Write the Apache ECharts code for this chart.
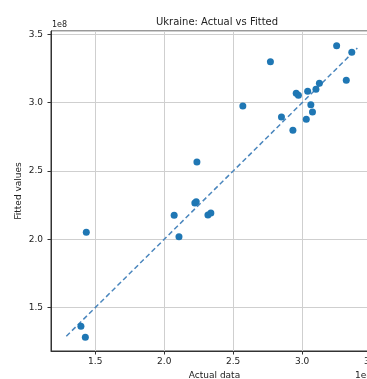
<!DOCTYPE html>
<html>
<head>
<meta charset="utf-8">
<script src="https://cdn.jsdelivr.net/npm/echarts@6/dist/echarts.min.js"></script>
<style>
  html, body { margin: 0; padding: 0; background: #fff; }
  #chart { width: 367px; height: 379px; }
</style>
</head>
<body>
<div id="chart"></div>
<script>
  // values in units of 1e8
  var actual = [3.25, 3.36, 2.77, 3.32, 3.125, 3.10, 3.04, 2.957, 2.973, 2.57, 3.063, 3.075, 2.85, 3.03, 2.933,
    2.237, 2.222, 2.232, 2.072, 2.317, 2.338, 1.435, 2.107, 1.396, 1.428];
  var fitted = [3.417, 3.369, 3.30, 3.164, 3.142, 3.098, 3.083, 3.069, 3.054, 2.976, 2.985, 2.932, 2.895, 2.878, 2.798,
    2.566, 2.266, 2.275, 2.176, 2.178, 2.193, 2.051, 2.019, 1.363, 1.283];
  // ends of the y = x reference line
  var lineEnds = [1.29, 3.40];

  var font = 'DejaVu Sans';
  var points = actual.map(function (v, i) { return [v, fitted[i]]; });

  // only label the half steps, like matplotlib does
  function halfStep (v) {
    return Math.abs(v * 2 - Math.round(v * 2)) < 1e-6 ? v.toFixed(1) : '';
  }

  var option = {
    animation: false,
    title: {
      text: 'Ukraine: Actual vs Fitted',
      left: 212,
      top: 12,
      textAlign: 'center',
      textStyle: { fontFamily: font, fontSize: 10, fontWeight: 'normal', color: '#222' }
    },
    grid: {
      left: 51,
      top: 31,
      width: 327,
      bottom: 28,
      outerBoundsMode: 'none',
      containLabel: false,
      show: true,
      borderColor: '#333',
      borderWidth: 1
    },
    xAxis: {
      type: 'value',
      min: 1.179,
      max: 3.55,
      splitNumber: 5,
      name: 'Actual data',
      nameLocation: 'middle',
      nameGap: 20,
      nameMoveOverlap: false,
      nameTextStyle: { fontFamily: font, fontSize: 9, color: '#222' },
      axisLine: { show: true, lineStyle: { color: '#333', width: 1 } },
      axisTick: { show: true, length: 3.5, lineStyle: { color: '#333' } },
      axisLabel: {
        fontFamily: font, fontSize: 9, color: '#222', margin: 6,
        showMinLabel: false,
        formatter: halfStep
      },
      splitLine: { show: true, lineStyle: { color: '#cfcfcf', width: 1 } }
    },
    yAxis: {
      type: 'value',
      min: 1.182,
      max: 3.525,
      splitNumber: 5,
      name: 'Fitted values',
      nameLocation: 'middle',
      nameGap: 28,
      nameMoveOverlap: false,
      nameTextStyle: { fontFamily: font, fontSize: 9, color: '#222' },
      axisLine: { show: true, lineStyle: { color: '#333', width: 1 } },
      axisTick: { show: true, length: 3.5, lineStyle: { color: '#333' } },
      axisLabel: {
        fontFamily: font, fontSize: 9, color: '#222', margin: 8,
        showMinLabel: false,
        showMaxLabel: false,
        formatter: halfStep
      },
      splitLine: { show: true, lineStyle: { color: '#cfcfcf', width: 1 } }
    },
    graphic: [
      { type: 'text', left: 52, top: 21, style: { text: '1e8', fontFamily: font, fontSize: 8, fill: '#222' } },
      { type: 'text', left: 355, top: 371, style: { text: '1e8', fontFamily: font, fontSize: 9, fill: '#222' } }
    ],
    series: [
      {
        type: 'line',
        data: [[lineEnds[0], lineEnds[0]], [lineEnds[1], lineEnds[1]]],
        symbol: 'none',
        lineStyle: { color: '#4a86bd', width: 1.5, type: [5, 3] },
        z: 3
      },
      {
        type: 'scatter',
        data: points,
        symbolSize: 7,
        itemStyle: { color: '#1f77b4', opacity: 1 },
        z: 4
      }
    ]
  };

  var chart = echarts.init(document.getElementById('chart'));
  chart.setOption(option);
</script>
</body>
</html>
